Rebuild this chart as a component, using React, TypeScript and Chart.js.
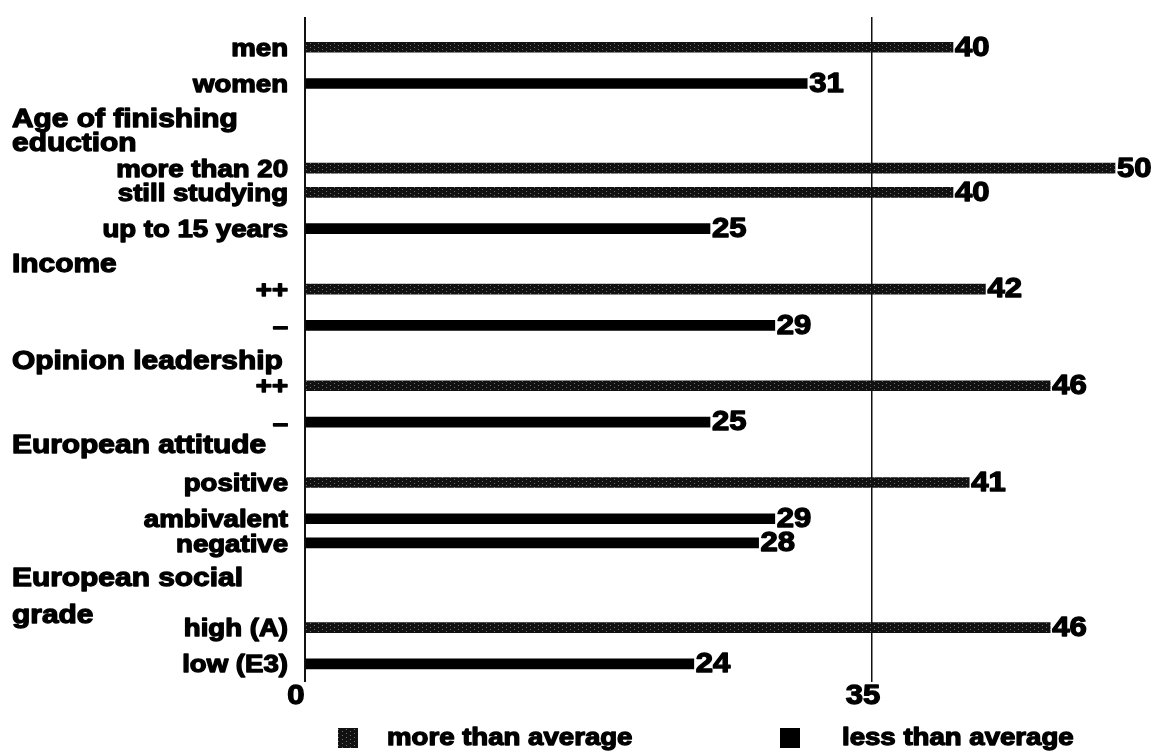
import React, { useEffect, useRef } from "react";
import { Chart, registerables } from "chart.js";

Chart.register(...registerables);

// ---- data ----
const itemLabels = [
  "men",
  "women",
  "more than 20",
  "still studying",
  "up to 15 years",
  "++",
  "–",
  "++",
  "–",
  "positive",
  "ambivalent",
  "negative",
  "high (A)",
  "low (E3)",
];
const moreThanAverage = [40, null, 50, 40, null, 42, null, 46, null, 41, null, null, 46, null];
const lessThanAverage = [null, 31, null, null, 25, null, 29, null, 25, null, 29, 28, null, 24];
const headerLabels = [
  "Age of finishing",
  "eduction",
  "Income",
  "Opinion leadership",
  "European attitude",
  "European social",
  "grade",
];
const xTickValues = [0, 35];
const seriesNames = ["more than average", "less than average"];

// ---- layout (row slots on the category axis) ----
const SLOT_COUNT = 55;
const ITEM_SLOTS = [2, 5, 12, 14, 17, 22, 25, 30, 33, 38, 41, 43, 50, 53];
const HEADER_SLOTS = [8, 10, 20, 28, 35, 46, 49];

const FONT = "'Liberation Sans', Arial, Helvetica, sans-serif";
const SX = 1.15;

function buildSlots<T>(values: (T | null)[], fill: T | null): (T | null)[] {
  const out: (T | null)[] = new Array(SLOT_COUNT).fill(fill);
  ITEM_SLOTS.forEach((s, i) => (out[s] = values[i]));
  return out;
}

function makePattern(): CanvasPattern | string {
  const c = document.createElement("canvas");
  c.width = 8;
  c.height = 4;
  const g = c.getContext("2d");
  if (!g) return "#1a1a1a";
  g.fillStyle = "#111";
  g.fillRect(0, 0, 8, 4);
  g.fillStyle = "#707070";
  g.fillRect(2, 1, 1, 1);
  g.fillRect(6, 3, 1, 1);
  const p = g.createPattern(c, "repeat");
  return p || "#1a1a1a";
}

function stretchedText(
  ctx: CanvasRenderingContext2D,
  text: string,
  x: number,
  y: number,
  size: number,
  align: CanvasTextAlign
) {
  ctx.save();
  ctx.translate(x, y);
  ctx.scale(SX, 1);
  ctx.font = `bold ${size}px ${FONT}`;
  ctx.textAlign = align;
  ctx.textBaseline = "middle";
  ctx.fillStyle = "#000";
  ctx.strokeStyle = "#000";
  ctx.lineWidth = 1.3;
  ctx.lineJoin = "round";
  ctx.strokeText(text, 0, 0);
  ctx.fillText(text, 0, 0);
  ctx.restore();
}

const labelsPlugin = {
  id: "scanLabels",
  afterDraw(chart: any) {
    const ctx: CanvasRenderingContext2D = chart.ctx;
    const y = chart.scales.y;
    const x = chart.scales.x;
    // item labels
    ITEM_SLOTS.forEach((slot, i) => {
      stretchedText(ctx, itemLabels[i], 288, y.getPixelForValue(slot) + 2, 24, "right");
    });
    // group headers
    HEADER_SLOTS.forEach((slot, i) => {
      stretchedText(ctx, headerLabels[i], 12, y.getPixelForValue(slot), 26, "left");
    });
    // value labels
    chart.data.datasets.forEach((ds: any, di: number) => {
      const meta = chart.getDatasetMeta(di);
      meta.data.forEach((el: any, idx: number) => {
        const v = ds.data[idx];
        if (v === null || v === undefined) return;
        stretchedText(ctx, String(v), el.x + 2, el.y + 1, 27, "left");
      });
    });
    // x tick labels
    xTickValues.forEach((v) => {
      stretchedText(ctx, String(v), x.getPixelForValue(v) - 9, 697, 27, "center");
    });
    // legend
    const legendY = 738;
    const legendItems = [
      { box: 338, text: 387 },
      { box: 780, text: 842 },
    ];
    chart.data.datasets.forEach((ds: any, di: number) => {
      const it = legendItems[di];
      ctx.save();
      ctx.fillStyle = ds.backgroundColor;
      ctx.fillRect(it.box, legendY - 10, 20, 20);
      ctx.restore();
      stretchedText(ctx, ds.label, it.text, legendY, 24, "left");
    });
  },
};

export default function App() {
  const ref = useRef<HTMLCanvasElement | null>(null);

  useEffect(() => {
    if (!ref.current) return;
    const categories = buildSlots<string>(itemLabels, "");
    const chart = new Chart(ref.current, {
      type: "bar",
      data: {
        labels: categories as string[],
        datasets: [
          {
            label: seriesNames[0],
            data: buildSlots<number>(moreThanAverage, null) as any,
            backgroundColor: makePattern() as any,
            grouped: false,
            barThickness: 10,
          },
          {
            label: seriesNames[1],
            data: buildSlots<number>(lessThanAverage, null) as any,
            backgroundColor: "#000",
            grouped: false,
            barThickness: 10,
          },
        ],
      },
      options: {
        indexAxis: "y",
        responsive: false,
        animation: false,
        layout: { padding: { left: 305, right: 11.6, top: 17, bottom: 0 } },
        plugins: {
          legend: { display: false },
          tooltip: { enabled: false },
        },
        scales: {
          y: {
            type: "category",
            display: false,
            offset: true,
          },
          x: {
            type: "linear",
            min: 0,
            max: 52,
            afterBuildTicks: (axis: any) => {
              axis.ticks = xTickValues.map((v) => ({ value: v }));
            },
            afterFit: (axis: any) => {
              axis.height = 70;
            },
            border: { display: false },
            grid: {
              drawTicks: false,
              color: "#111",
              lineWidth: (c: any) => (c.tick && c.tick.value === 0 ? 2 : 1.5),
            },
            ticks: { display: false },
          },
        },
      },
      plugins: [labelsPlugin],
    });
    return () => chart.destroy();
  }, []);

  return (
    <div style={{ position: "fixed", left: 0, top: 0, width: 1159, height: 752, background: "#fff" }}>
      <canvas ref={ref} width={1159} height={752} />
    </div>
  );
}
